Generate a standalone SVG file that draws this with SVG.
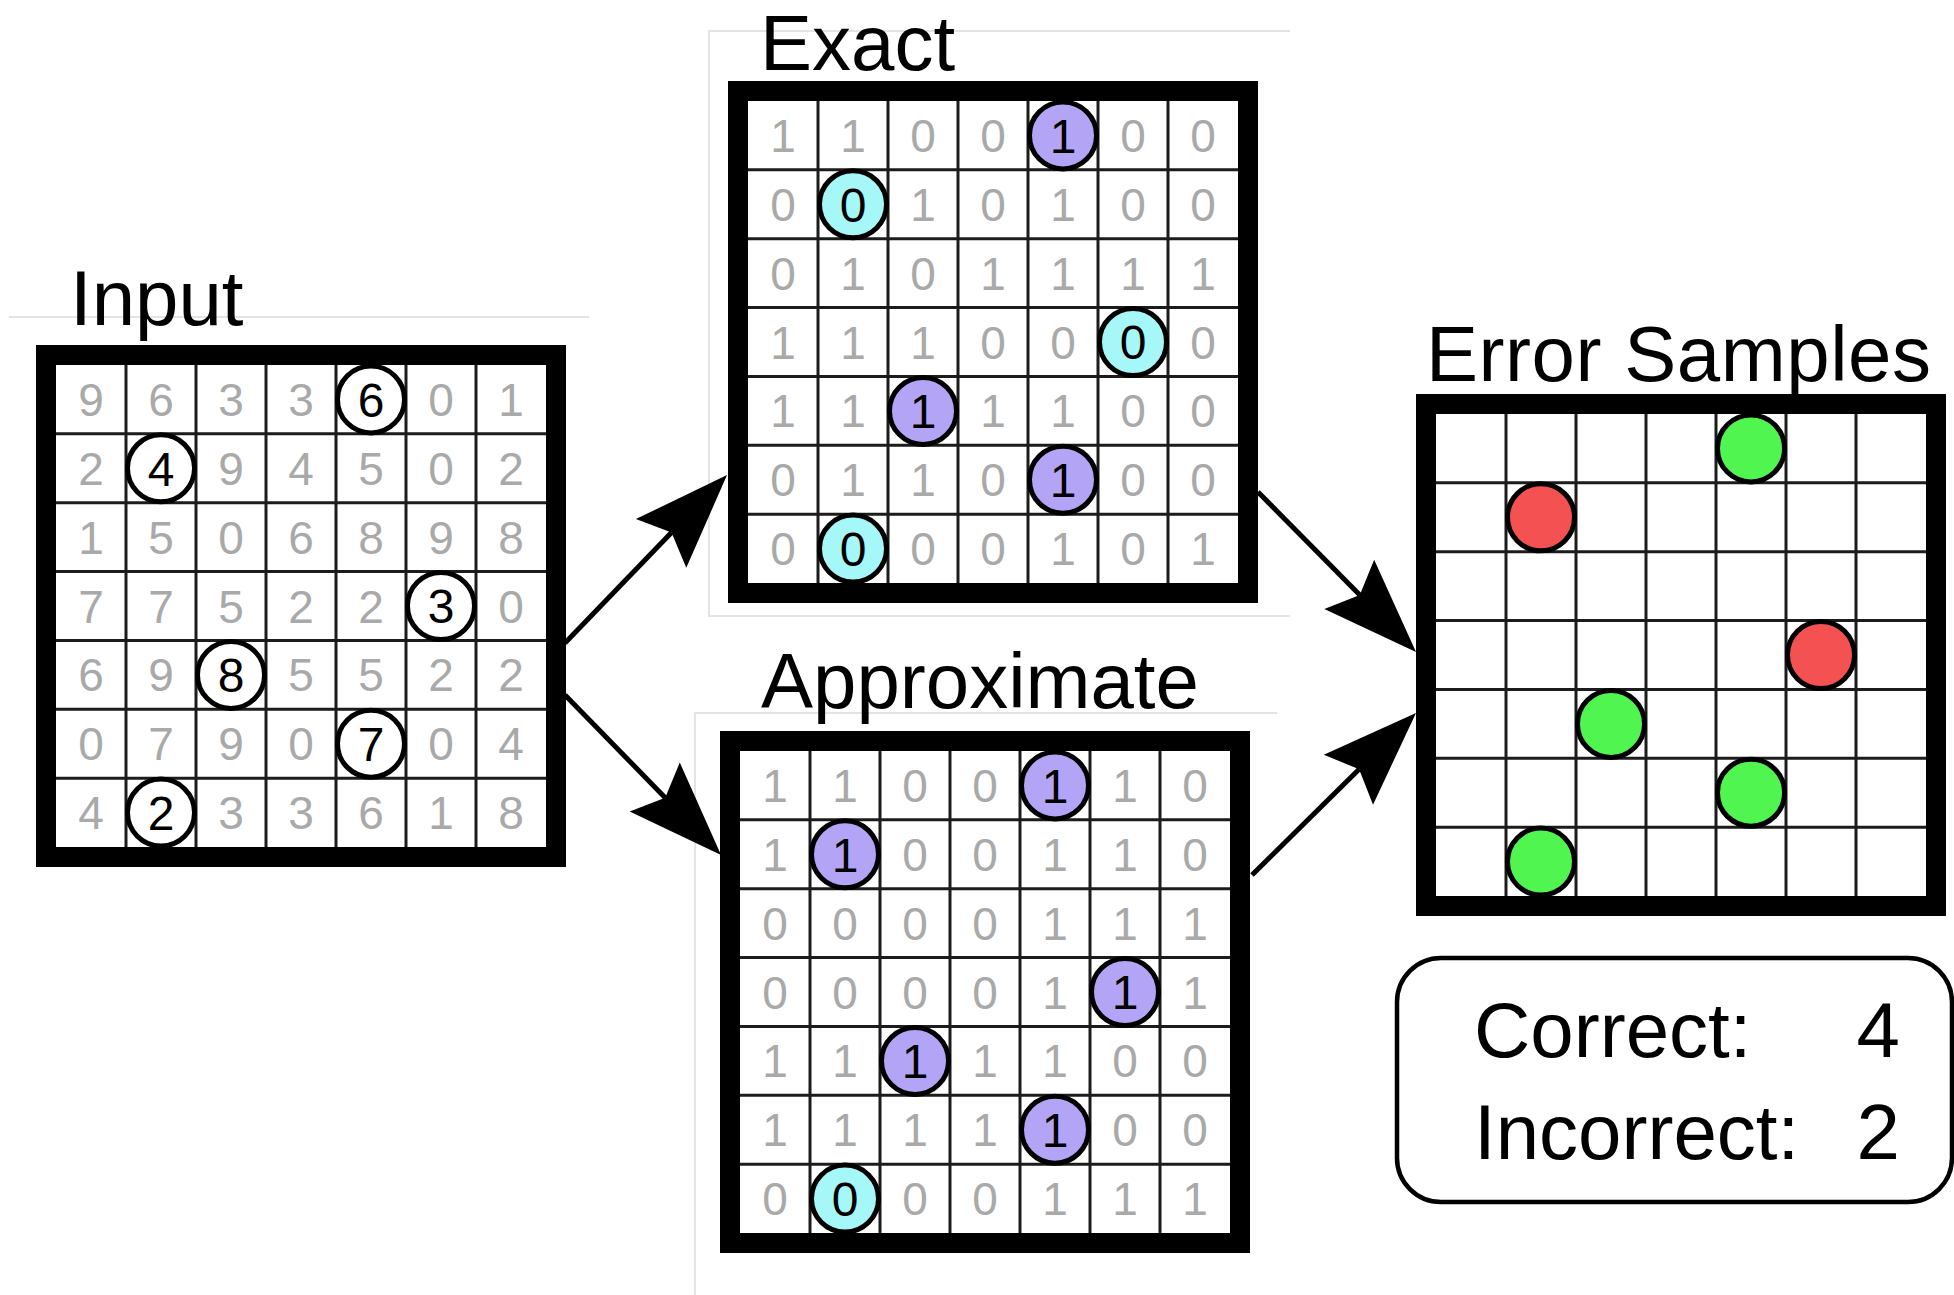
<svg xmlns="http://www.w3.org/2000/svg" xmlns:xlink="http://www.w3.org/1999/xlink" width="1954" height="1295" viewBox="0 0 1954 1295">
<style>
text{font-family:"Liberation Sans",Arial,sans-serif}
.d{font-size:46px;text-anchor:middle;fill:#a9a9a9}
.k{font-size:48px;text-anchor:middle;fill:#000}
.t{font-size:78px;fill:#000}
.c{stroke:#000;stroke-width:5}
.w{fill:#fff}
.p{fill:#b4a4f6}
.y{fill:#a6f8f8}
.gr{fill:#50f550}
.rd{fill:#f45252}
.faint{stroke:#e4e4e4;stroke-width:2;fill:none}
.ar{stroke:#000;stroke-width:5;fill:none;marker-end:url(#head)}
</style>
<defs>
<marker id="head" markerUnits="userSpaceOnUse" markerWidth="100" markerHeight="80" refX="0" refY="0" orient="auto" overflow="visible">
<path d="M80,0 L-15,-35 L0,0 L-15,35 Z" fill="#000"/>
</marker>
<g id="grid">
<rect x="10" y="10" width="510" height="502" fill="#fff" stroke="#000" stroke-width="20"/>
<path d="M90 20V502M160 20V502M230 20V502M300 20V502M370 20V502M440 20V502M20 88.86H510M20 157.71H510M20 226.57H510M20 295.43H510M20 364.29H510M20 433.14H510" stroke="#1c1c1c" stroke-width="3" fill="none"/>
</g>
</defs>
<rect width="1954" height="1295" fill="#fff"/>
<g id="frames-faint">
<path class="faint" d="M9 317H589"/>
<path class="faint" d="M1290 31H709V616H1290"/>
<path class="faint" d="M1277 713H695V1295"/>
</g>
<g id="input">
<text class="t" x="70" y="325">Input</text>
<g transform="translate(36,345)">
<use xlink:href="#grid"/>
<g class="d">
<text x="55" y="70.9">9</text><text x="125" y="70.9">6</text><text x="195" y="70.9">3</text><text x="265" y="70.9">3</text><text x="405" y="70.9">0</text><text x="475" y="70.9">1</text>
<text x="55" y="139.8">2</text><text x="195" y="139.8">9</text><text x="265" y="139.8">4</text><text x="335" y="139.8">5</text><text x="405" y="139.8">0</text><text x="475" y="139.8">2</text>
<text x="55" y="208.6">1</text><text x="125" y="208.6">5</text><text x="195" y="208.6">0</text><text x="265" y="208.6">6</text><text x="335" y="208.6">8</text><text x="405" y="208.6">9</text><text x="475" y="208.6">8</text>
<text x="55" y="277.5">7</text><text x="125" y="277.5">7</text><text x="195" y="277.5">5</text><text x="265" y="277.5">2</text><text x="335" y="277.5">2</text><text x="475" y="277.5">0</text>
<text x="55" y="346.4">6</text><text x="125" y="346.4">9</text><text x="265" y="346.4">5</text><text x="335" y="346.4">5</text><text x="405" y="346.4">2</text><text x="475" y="346.4">2</text>
<text x="55" y="415.2">0</text><text x="125" y="415.2">7</text><text x="195" y="415.2">9</text><text x="265" y="415.2">0</text><text x="405" y="415.2">0</text><text x="475" y="415.2">4</text>
<text x="55" y="484.1">4</text><text x="195" y="484.1">3</text><text x="265" y="484.1">3</text><text x="335" y="484.1">6</text><text x="405" y="484.1">1</text><text x="475" y="484.1">8</text>
</g>
<circle class="c w" cx="335" cy="54.4" r="33.5"/>
<circle class="c w" cx="125" cy="123.3" r="33.5"/>
<circle class="c w" cx="405" cy="261" r="33.5"/>
<circle class="c w" cx="195" cy="329.9" r="33.5"/>
<circle class="c w" cx="335" cy="398.7" r="33.5"/>
<circle class="c w" cx="125" cy="467.6" r="33.5"/>
<text class="k" x="335" y="71.6">6</text>
<text class="k" x="125" y="140.5">4</text>
<text class="k" x="405" y="278.2">3</text>
<text class="k" x="195" y="347.1">8</text>
<text class="k" x="335" y="415.9">7</text>
<text class="k" x="125" y="484.8">2</text>
</g>
</g>
<g id="exact">
<text class="t" x="760" y="70">Exact</text>
<g transform="translate(728,81)">
<use xlink:href="#grid"/>
<g class="d">
<text x="55" y="70.9">1</text><text x="125" y="70.9">1</text><text x="195" y="70.9">0</text><text x="265" y="70.9">0</text><text x="405" y="70.9">0</text><text x="475" y="70.9">0</text>
<text x="55" y="139.8">0</text><text x="195" y="139.8">1</text><text x="265" y="139.8">0</text><text x="335" y="139.8">1</text><text x="405" y="139.8">0</text><text x="475" y="139.8">0</text>
<text x="55" y="208.6">0</text><text x="125" y="208.6">1</text><text x="195" y="208.6">0</text><text x="265" y="208.6">1</text><text x="335" y="208.6">1</text><text x="405" y="208.6">1</text><text x="475" y="208.6">1</text>
<text x="55" y="277.5">1</text><text x="125" y="277.5">1</text><text x="195" y="277.5">1</text><text x="265" y="277.5">0</text><text x="335" y="277.5">0</text><text x="475" y="277.5">0</text>
<text x="55" y="346.4">1</text><text x="125" y="346.4">1</text><text x="265" y="346.4">1</text><text x="335" y="346.4">1</text><text x="405" y="346.4">0</text><text x="475" y="346.4">0</text>
<text x="55" y="415.2">0</text><text x="125" y="415.2">1</text><text x="195" y="415.2">1</text><text x="265" y="415.2">0</text><text x="405" y="415.2">0</text><text x="475" y="415.2">0</text>
<text x="55" y="484.1">0</text><text x="195" y="484.1">0</text><text x="265" y="484.1">0</text><text x="335" y="484.1">1</text><text x="405" y="484.1">0</text><text x="475" y="484.1">1</text>
</g>
<circle class="c p" cx="335" cy="54.4" r="33.5"/>
<circle class="c y" cx="125" cy="123.3" r="33.5"/>
<circle class="c y" cx="405" cy="261" r="33.5"/>
<circle class="c p" cx="195" cy="329.9" r="33.5"/>
<circle class="c p" cx="335" cy="398.7" r="33.5"/>
<circle class="c y" cx="125" cy="467.6" r="33.5"/>
<text class="k" x="335" y="71.6">1</text>
<text class="k" x="125" y="140.5">0</text>
<text class="k" x="405" y="278.2">0</text>
<text class="k" x="195" y="347.1">1</text>
<text class="k" x="335" y="415.9">1</text>
<text class="k" x="125" y="484.8">0</text>
</g>
</g>
<g id="approximate">
<text class="t" x="761" y="708">Approximate</text>
<g transform="translate(720,731)">
<use xlink:href="#grid"/>
<g class="d">
<text x="55" y="70.9">1</text><text x="125" y="70.9">1</text><text x="195" y="70.9">0</text><text x="265" y="70.9">0</text><text x="405" y="70.9">1</text><text x="475" y="70.9">0</text>
<text x="55" y="139.8">1</text><text x="195" y="139.8">0</text><text x="265" y="139.8">0</text><text x="335" y="139.8">1</text><text x="405" y="139.8">1</text><text x="475" y="139.8">0</text>
<text x="55" y="208.6">0</text><text x="125" y="208.6">0</text><text x="195" y="208.6">0</text><text x="265" y="208.6">0</text><text x="335" y="208.6">1</text><text x="405" y="208.6">1</text><text x="475" y="208.6">1</text>
<text x="55" y="277.5">0</text><text x="125" y="277.5">0</text><text x="195" y="277.5">0</text><text x="265" y="277.5">0</text><text x="335" y="277.5">1</text><text x="475" y="277.5">1</text>
<text x="55" y="346.4">1</text><text x="125" y="346.4">1</text><text x="265" y="346.4">1</text><text x="335" y="346.4">1</text><text x="405" y="346.4">0</text><text x="475" y="346.4">0</text>
<text x="55" y="415.2">1</text><text x="125" y="415.2">1</text><text x="195" y="415.2">1</text><text x="265" y="415.2">1</text><text x="405" y="415.2">0</text><text x="475" y="415.2">0</text>
<text x="55" y="484.1">0</text><text x="195" y="484.1">0</text><text x="265" y="484.1">0</text><text x="335" y="484.1">1</text><text x="405" y="484.1">1</text><text x="475" y="484.1">1</text>
</g>
<circle class="c p" cx="335" cy="54.4" r="33.5"/>
<circle class="c p" cx="125" cy="123.3" r="33.5"/>
<circle class="c p" cx="405" cy="261" r="33.5"/>
<circle class="c p" cx="195" cy="329.9" r="33.5"/>
<circle class="c p" cx="335" cy="398.7" r="33.5"/>
<circle class="c y" cx="125" cy="467.6" r="33.5"/>
<text class="k" x="335" y="71.6">1</text>
<text class="k" x="125" y="140.5">1</text>
<text class="k" x="405" y="278.2">1</text>
<text class="k" x="195" y="347.1">1</text>
<text class="k" x="335" y="415.9">1</text>
<text class="k" x="125" y="484.8">0</text>
</g>
</g>
<g id="error-samples">
<text class="t" x="1426" y="381" textLength="505">Error Samples</text>
<g transform="translate(1416,394)">
<use xlink:href="#grid"/>
<circle class="c gr" cx="335" cy="54.4" r="33.5"/>
<circle class="c rd" cx="125" cy="123.3" r="33.5"/>
<circle class="c rd" cx="405" cy="261" r="33.5"/>
<circle class="c gr" cx="195" cy="329.9" r="33.5"/>
<circle class="c gr" cx="335" cy="398.7" r="33.5"/>
<circle class="c gr" cx="125" cy="467.6" r="33.5"/>
</g>
</g>
<g id="counts">
<rect x="1397" y="958" width="555" height="244" rx="44" ry="44" fill="#fff" stroke="#000" stroke-width="4.5"/>
<text class="t" x="1474" y="1057">Correct:</text>
<text class="t" x="1474" y="1159">Incorrect:</text>
<text class="t" x="1900" y="1057" text-anchor="end">4</text>
<text class="t" x="1900" y="1159" text-anchor="end">2</text>
</g>
<g id="connectors">
<path class="ar" d="M565 643L671.5 532.6"/>
<path class="ar" d="M565 695L665.2 797.7"/>
<path class="ar" d="M1258 492L1359.8 595.1"/>
<path class="ar" d="M1252 875L1359.1 769.2"/>
</g>
</svg>
